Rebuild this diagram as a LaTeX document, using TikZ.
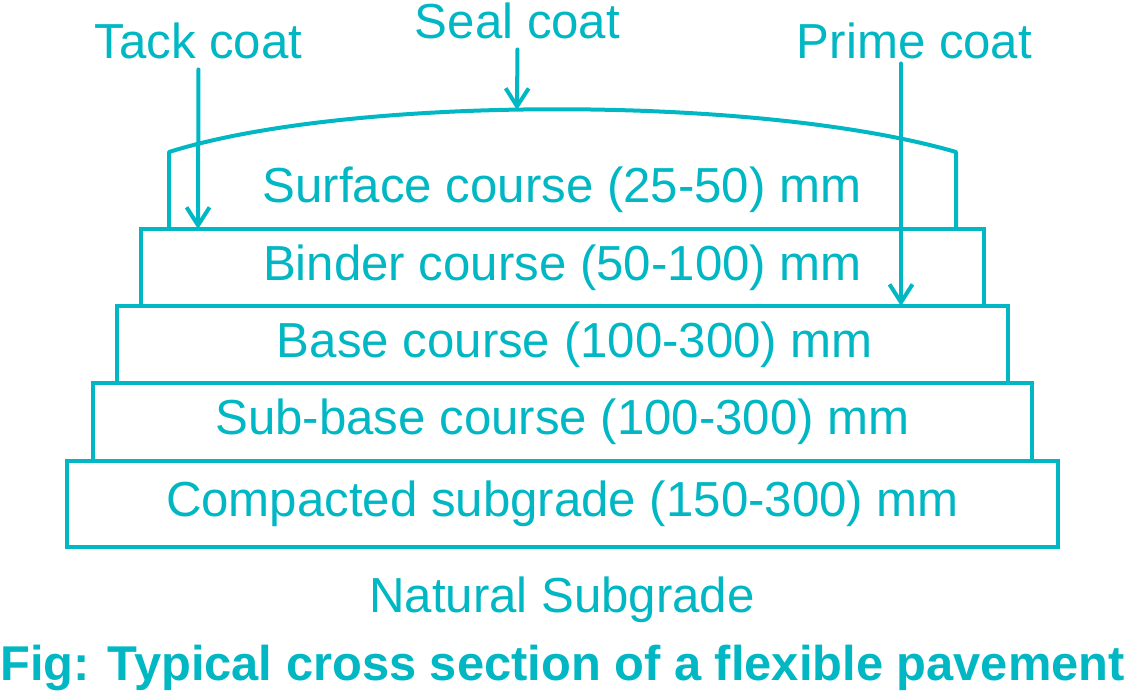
\documentclass[tikz,border=0pt]{standalone}
\usepackage{fontspec}
\setmainfont{Liberation Sans}
\usepackage{tikz}
\usetikzlibrary{arrows.meta}
\definecolor{pave}{RGB}{0,183,195}

\begin{document}
\begin{tikzpicture}[x=0.02cm,y=-0.02cm,draw=pave,line width=0.08cm,font=\fontsize{28}{33}\selectfont]
	\tikzstyle{every node}=[text=pave,inner sep=0pt]
	\tikzstyle{layer}=[rectangle,draw=pave,line width=0.08cm,minimum height=1.54cm]
	\tikzstyle{coat}=[-{Straight Barb[length=0.36cm,width=0.46cm]},line cap=round,shorten <=0.18cm]
	\useasboundingbox (0,0) rectangle (1125,691);

	% layers, bottom to top
	\node (SUBGRADE)[layer,minimum width=19.84cm,minimum height=1.72cm] at (562.5,504) {Compacted subgrade (150-300) mm};
	\node (SUBBASE)[layer,minimum width=18.78cm,minimum height=1.56cm] at (562.5,422) {Sub-base course (100-300) mm};
	\node (BASE)[layer,minimum width=17.82cm] at (562.5,344.5) {\hspace{0.5cm}Base course (100-300) mm};
	\node (BINDER)[layer,minimum width=16.86cm] at (562.5,267.5) {Binder course (50-100) mm};

	% surface course with cambered top
	\draw[line join=round] (169,229) -- (169,152) .. controls (350,95) and (760,95) .. (956,152) -- (956,229);
	\node (SURFACE)[anchor=base] at (562,202) {Surface course (25-50) mm};

	\node (NATURAL)[anchor=base] at (562,612) {Natural Subgrade};
	\node (TITLE)[anchor=base,font=\fontsize{27.8}{33}\selectfont\bfseries] at (562.5,680) {Fig: Typical cross section of a flexible pavement};

	% coats
	\node (TACK)[anchor=base] at (198.5,58) {Tack coat};
	\node (SEAL)[anchor=base] at (517.5,38) {Seal coat};
	\node (PRIME)[anchor=base] at (914.5,58) {Prime coat};
	\coordinate (TACKEND) at (198,229);
	\coordinate (SEALEND) at (517,110);
	\coordinate (PRIMEEND) at (901,306);

	\draw[coat,pave] (TACK.south) -- (TACKEND);
	\draw[coat,pave] (SEAL.south) -- (SEALEND);
	\draw[coat,pave,shorten <=0.06cm] (PRIME.south -| PRIMEEND) -- (PRIMEEND);
\end{tikzpicture}
\end{document}
